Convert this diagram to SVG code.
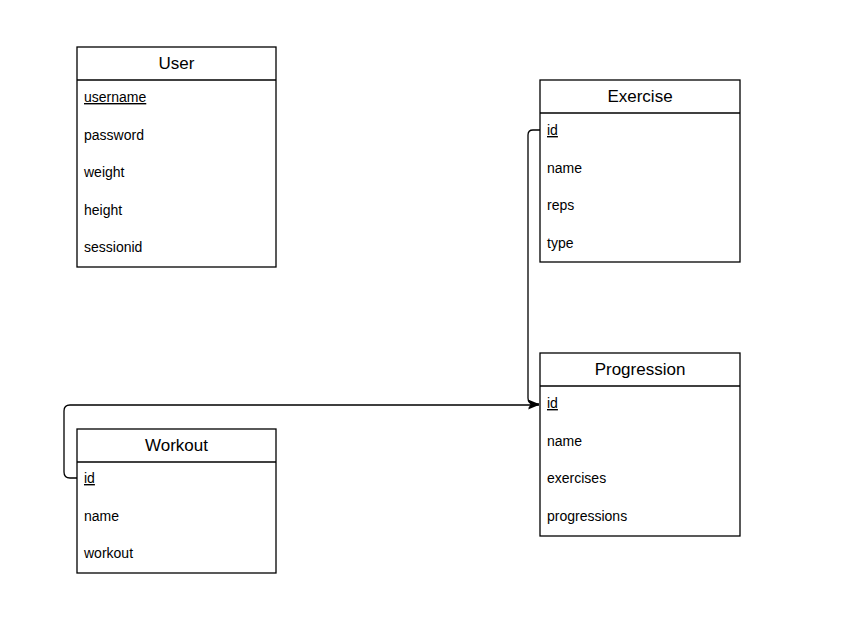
<svg xmlns="http://www.w3.org/2000/svg" width="863" height="622" viewBox="0 0 863 622">
<style>
.box{fill:#fff;stroke:#000;stroke-width:1.3}
.hdr{font-family:"Liberation Sans",Arial,sans-serif;font-size:17px;text-anchor:middle;fill:#000}
.row{font-family:"Liberation Sans",Arial,sans-serif;font-size:14px;fill:#000}
.key{text-decoration:underline}
.conn{fill:none;stroke:#000;stroke-width:1.3}
</style>
<defs>
<marker id="arr" markerWidth="12" markerHeight="12" refX="11" refY="6" orient="auto" markerUnits="userSpaceOnUse">
<path d="M0,1.5 L11,6 L0,10.5 L3,6 Z" fill="#000"/>
</marker>
</defs>
<rect width="863" height="622" fill="#fff"/>
<g id="connectors">
<path class="conn" d="M540,130 L533,130 Q528,130 528,135 L528,398 Q528,404 534,404 L539,404" marker-end="url(#arr)"/>
<path class="conn" d="M77,478 L70,478 Q64,478 64,472 L64,411 Q64,405 70,405 L539,405" marker-end="url(#arr)"/>
</g>
<g id="user">
<rect class="box" x="77" y="47" width="199" height="220"/>
<line class="box" x1="77" y1="80" x2="276" y2="80"/>
<text class="hdr" x="176.5" y="69">User</text>
<text class="row key" x="84" y="102">username</text>
<text class="row" x="84" y="140">password</text>
<text class="row" x="84" y="177">weight</text>
<text class="row" x="84" y="215">height</text>
<text class="row" x="84" y="252">sessionid</text>
</g>
<g id="exercise">
<rect class="box" x="540" y="80" width="200" height="182"/>
<line class="box" x1="540" y1="113" x2="740" y2="113"/>
<text class="hdr" x="640" y="102">Exercise</text>
<text class="row key" x="547" y="135">id</text>
<text class="row" x="547" y="173">name</text>
<text class="row" x="547" y="210">reps</text>
<text class="row" x="547" y="248">type</text>
</g>
<g id="progression">
<rect class="box" x="540" y="353" width="200" height="183"/>
<line class="box" x1="540" y1="386" x2="740" y2="386"/>
<text class="hdr" x="640" y="375">Progression</text>
<text class="row key" x="547" y="408">id</text>
<text class="row" x="547" y="446">name</text>
<text class="row" x="547" y="483">exercises</text>
<text class="row" x="547" y="521">progressions</text>
</g>
<g id="workout">
<rect class="box" x="77" y="429" width="199" height="144"/>
<line class="box" x1="77" y1="462" x2="276" y2="462"/>
<text class="hdr" x="176.5" y="451">Workout</text>
<text class="row key" x="84" y="483">id</text>
<text class="row" x="84" y="521">name</text>
<text class="row" x="84" y="558">workout</text>
</g>
</svg>
